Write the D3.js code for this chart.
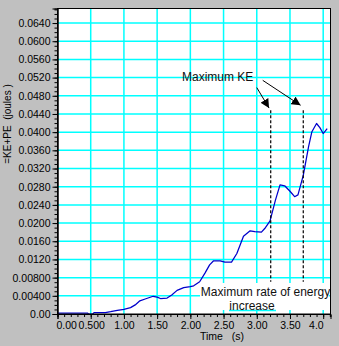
<!DOCTYPE html>
<html>
<head>
<meta charset="utf-8">
<script src="https://cdn.jsdelivr.net/npm/d3@7/dist/d3.min.js"></script>
<style>
  html, body { margin: 0; padding: 0; background: #c0c0c0; }
  svg { display: block; }
  text { white-space: pre; }
</style>
</head>
<body>
<svg id="chart" width="339" height="346"></svg>
<script>
// Total mechanical energy (KE + PE) over time
const time = [0, 0.1, 0.2, 0.3, 0.4, 0.45, 0.47, 0.53, 0.55, 0.65, 0.72, 0.8, 0.9, 1.0, 1.1, 1.17,
  1.24, 1.32, 1.44, 1.5, 1.55, 1.65, 1.72, 1.8, 1.9, 2.0, 2.05, 2.14, 2.22, 2.29, 2.35, 2.45, 2.52,
  2.62, 2.7, 2.8, 2.9, 2.97, 3.07, 3.12, 3.2, 3.28, 3.35, 3.42, 3.5, 3.57, 3.62, 3.7, 3.78, 3.83,
  3.9, 3.95, 4.0, 4.06];
const energy = [0.0002, 0.0002, 0.0002, 0.0002, 0.0002, 0.0002, 0, 0, 0.0003, 0.0003, 0.0003, 0.0005,
  0.0008, 0.0010, 0.0014, 0.0020, 0.0029, 0.0033, 0.0039, 0.0037, 0.0034, 0.0035, 0.0042, 0.0052,
  0.0058, 0.0060, 0.0062, 0.0071, 0.0090, 0.0108, 0.0117, 0.0117, 0.0114, 0.0114, 0.0133, 0.0171,
  0.0183, 0.0181, 0.0180, 0.0188, 0.0205, 0.0250, 0.0284, 0.0282, 0.0270, 0.0258, 0.0262, 0.0305,
  0.0368, 0.0401, 0.0419, 0.0410, 0.0397, 0.0408];

// Axis ticks and their printed labels
const xTicks = [0, 0.5, 1.0, 1.5, 2.0, 2.5, 3.0, 3.5, 4.0];
const xTickLabels = ["0.00", "0.500", "1.00", "1.50", "2.00", "2.50", "3.00", "3.50", "4.0"];
const yTicks = [0, 0.004, 0.008, 0.012, 0.016, 0.020, 0.024, 0.028, 0.032, 0.036, 0.040, 0.044,
  0.048, 0.052, 0.056, 0.060, 0.064];
const yTickLabels = ["0.00", "0.00400", "0.00800", "0.0120", "0.0160", "0.0200", "0.0240", "0.0280",
  "0.0320", "0.0360", "0.0400", "0.0440", "0.0480", "0.0520", "0.0560", "0.0600", "0.0640"];

// Annotation marks: instants of maximum KE / maximum rate of energy increase
const markerTimes = [3.21, 3.70];
const markerRange = [0.0071, 0.0448];
const arrowStarts = [[3.00, 0.0498], [3.09, 0.0514]];
const arrowTips = [[3.185, 0.0453], [3.66, 0.0459]];

const svg = d3.select("#chart");
const W = 339, H = 346;
const plotL = 57.5, plotR = 330.5, plotT = 8.5, plotB = 314;

svg.append("rect").attr("width", W).attr("height", H).attr("fill", "#c0c0c0");

const x = d3.scaleLinear().domain([0, 4.11]).range([plotL, plotR]);
const y = d3.scaleLinear().domain([0, 0.0672]).range([plotB, plotT]);

svg.append("rect")
  .attr("x", plotL).attr("y", plotT)
  .attr("width", plotR - plotL).attr("height", plotB - plotT)
  .attr("fill", "#ffffff");

// grid
const grid = svg.append("g").attr("stroke", "#00ffff").attr("stroke-width", 1.5);
grid.selectAll("line.h").data(yTicks.slice(1)).join("line")
  .attr("x1", plotL).attr("x2", plotR)
  .attr("y1", d => y(d)).attr("y2", d => y(d));
grid.selectAll("line.v").data(xTicks.slice(1)).join("line")
  .attr("y1", plotT).attr("y2", plotB)
  .attr("x1", d => x(d)).attr("x2", d => x(d));

// text box for the lower annotation
const annot = svg.append("g");
annot.append("rect").attr("x", 200).attr("y", 283).attr("width", 129).attr("height", 27).attr("fill", "#ffffff");
annot.append("line").attr("x1", 229).attr("x2", 276).attr("y1", 310.5).attr("y2", 310.5)
  .attr("stroke", "#00ffff").attr("stroke-width", 1.5);

// energy curve
const line = d3.line().x((d, i) => x(time[i])).y(d => y(d));
svg.append("path")
  .attr("d", line(energy))
  .attr("fill", "none")
  .attr("stroke", "#0000cc")
  .attr("stroke-width", 1.25)
  .attr("stroke-linejoin", "round");

// dashed marker lines
svg.append("g").selectAll("line").data(markerTimes).join("line")
  .attr("x1", d => x(d)).attr("x2", d => x(d))
  .attr("y1", y(markerRange[1])).attr("y2", y(markerRange[0]))
  .attr("stroke", "#000").attr("stroke-width", 1.2)
  .attr("stroke-dasharray", "3,2");

// arrows
const defs = svg.append("defs");
defs.append("marker").attr("id", "head")
  .attr("viewBox", "0 0 10 10").attr("refX", 10).attr("refY", 5)
  .attr("markerWidth", 9).attr("markerHeight", 9).attr("markerUnits", "userSpaceOnUse")
  .attr("orient", "auto")
  .append("path").attr("d", "M0,0 L10,5 L0,10 z").attr("fill", "#000");
svg.append("g").selectAll("line").data(arrowStarts).join("line")
  .attr("x1", d => x(d[0])).attr("y1", d => y(d[1]))
  .attr("x2", (d, i) => x(arrowTips[i][0])).attr("y2", (d, i) => y(arrowTips[i][1]))
  .attr("stroke", "#000").attr("stroke-width", 1)
  .attr("marker-end", "url(#head)");

// annotation texts
const aFont = "Liberation Sans, Arial, sans-serif";
svg.append("text").attr("x", 182).attr("y", 80.5)
  .attr("font-family", aFont).attr("font-size", 12).attr("fill", "#111")
  .text("Maximum KE");
svg.append("text").attr("x", 265.5).attr("y", 295.5).attr("text-anchor", "middle")
  .attr("font-family", aFont).attr("font-size", 12).attr("fill", "#111")
  .text("Maximum rate of energy");
svg.append("text").attr("x", 252).attr("y", 309.5).attr("text-anchor", "middle")
  .attr("font-family", aFont).attr("font-size", 12).attr("fill", "#111")
  .text("increase");

// plot frame
svg.append("rect")
  .attr("x", plotL).attr("y", plotT)
  .attr("width", plotR - plotL).attr("height", plotB - plotT)
  .attr("fill", "none").attr("stroke", "#000").attr("stroke-width", 1);

// axes
const tFont = "Liberation Sans, Arial, sans-serif";
const yAxis = d3.axisLeft(y).tickValues(yTicks).tickSize(5).tickPadding(2)
  .tickFormat((d, i) => yTickLabels[i]);
const yMinor = d3.axisLeft(y).tickValues(d3.range(0, 0.0672, 0.001)).tickSize(3).tickFormat("");
const xAxis = d3.axisBottom(x).tickValues(xTicks).tickSize(5).tickPadding(3)
  .tickFormat((d, i) => xTickLabels[i]);
const xMinor = d3.axisBottom(x).tickValues(d3.range(0, 4.11, 0.1)).tickSize(3).tickFormat("");

function style(g) {
  g.select(".domain").attr("stroke", "#000");
  g.selectAll(".tick line").attr("stroke", "#000");
  g.selectAll("text").attr("font-family", tFont).attr("font-size", 10.5).attr("fill", "#000");
}
svg.append("g").attr("transform", `translate(${plotL},0)`).call(yMinor).call(style);
svg.append("g").attr("transform", `translate(${plotL},0)`).call(yAxis).call(style);
svg.append("g").attr("transform", `translate(0,${plotB})`).call(xMinor).call(style);
const xg = svg.append("g").attr("transform", `translate(0,${plotB})`).call(xAxis).call(style);
xg.selectAll(".tick text").filter((d, i) => i === 0).attr("text-anchor", "start").attr("dx", -1.5);
xg.selectAll(".tick text").filter((d, i) => i === 1).attr("dx", 0.5);
xg.selectAll(".tick text").filter((d, i) => i === xTicks.length - 1).attr("text-anchor", "end");

// axis titles
svg.append("text").attr("x", 222).attr("y", 340)
  .attr("text-anchor", "middle").attr("font-family", tFont).attr("font-size", 10.5)
  .text("Time   (s)");
svg.append("text").attr("transform", "translate(11,124) rotate(-90)")
  .attr("text-anchor", "middle").attr("font-family", aFont).attr("font-size", 10)
  .text("=KE+PE  (joules )");
</script>
</body>
</html>
